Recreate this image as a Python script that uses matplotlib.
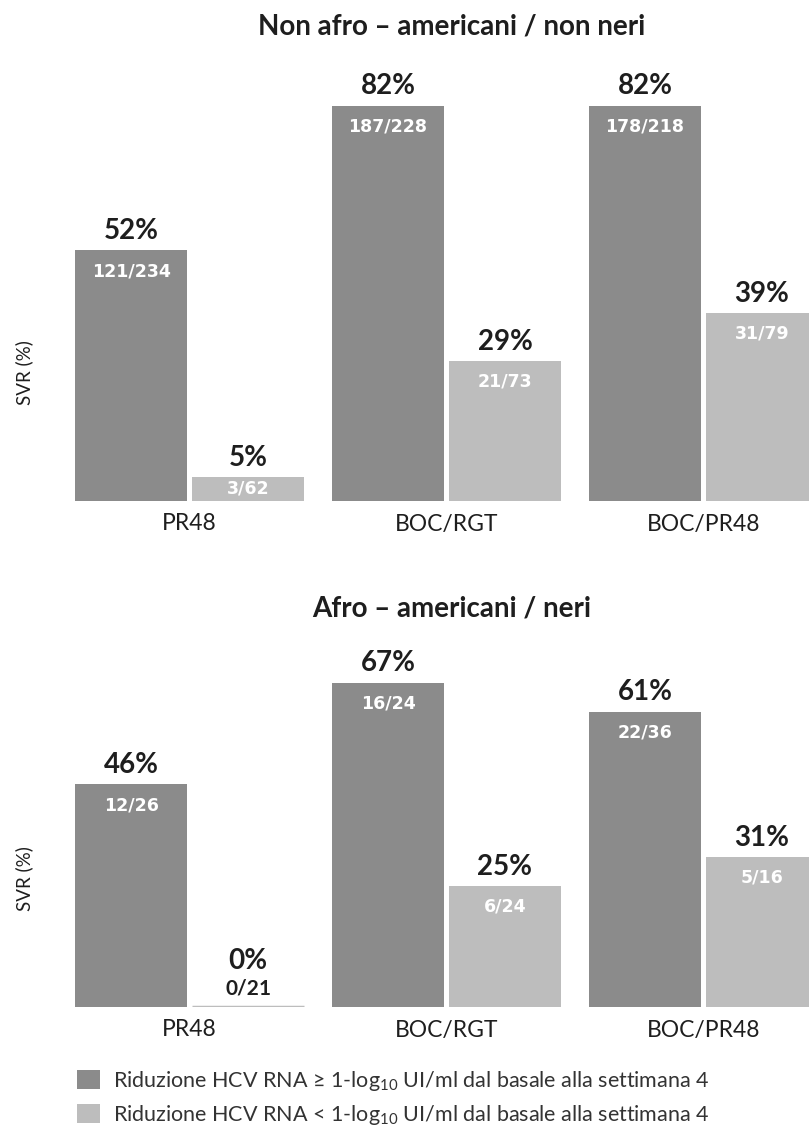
import matplotlib
matplotlib.use("Agg")
import matplotlib.pyplot as plt
import numpy as np

plt.rcParams['font.family'] = ['Lato', 'DejaVu Sans']
plt.rcParams['mathtext.default'] = 'regular'

# Data
categories = ["PR48", "BOC/RGT", "BOC/PR48"]

top_title = "Non afro \u2013 americani / non neri"
top_high = [52, 82, 82]
top_low = [5, 29, 39]
top_high_n = ["121/234", "187/228", "178/218"]
top_low_n = ["3/62", "21/73", "31/79"]

bottom_title = "Afro \u2013 americani / neri"
bottom_high = [46, 67, 61]
bottom_low = [0, 25, 31]
bottom_high_n = ["12/26", "16/24", "22/36"]
bottom_low_n = ["0/21", "6/24", "5/16"]

legend_labels = [
    "Riduzione HCV RNA \u2265 1-log$_{10}$ UI/ml dal basale alla settimana 4",
    "Riduzione HCV RNA < 1-log$_{10}$ UI/ml dal basale alla settimana 4",
]

DARK = "#8b8b8b"
LIGHT = "#bdbdbd"
TXT = "#1e1e1e"

W, H = 809, 1131
fig = plt.figure(figsize=(W / 100, H / 100), dpi=100)

x = np.arange(len(categories))
bw = 0.436
off = 0.2276
xlim = (-0.7374, 2.4105)

PCT_FS = 20
FRAC_FS = 12.5


def panel(bottom_px, top_px, ylim_top, high, low, high_n, low_n, title, title_y):
    ax = fig.add_axes([0, 1 - bottom_px / H, 1, (bottom_px - top_px) / H])
    ax.set_xlim(*xlim)
    ax.set_ylim(0, ylim_top)
    b1 = ax.bar(x - off, high, bw, color=DARK, linewidth=0)
    b2 = ax.bar(x + off, low, bw, color=LIGHT, edgecolor=LIGHT,
                linewidth=[2.5 if v == 0 else 0 for v in low])
    for xi, v, n in zip(x - off, high, high_n):
        ax.text(xi, v + 4.0, f"{v}%", ha="center", va="center",
                fontsize=PCT_FS, fontweight="bold", color=TXT)
        ax.text(xi, v - 4.3, n, ha="center", va="center", fontsize=FRAC_FS,
                fontweight="bold", color="white", family="DejaVu Sans")
    for xi, v, n in zip(x + off, low, low_n):
        if v == 0:
            ax.text(xi, v + 9.5, f"{v}%", ha="center", va="center",
                    fontsize=PCT_FS, fontweight="bold", color=TXT)
            ax.text(xi, v + 3.9, n, ha="center", va="center", fontsize=15,
                    fontweight="bold", color=TXT)
            continue
        ax.text(xi, v + 4.0, f"{v}%", ha="center", va="center",
                fontsize=PCT_FS, fontweight="bold", color=TXT)
        yl = v / 2 if v < 8 else v - 4.3
        ax.text(xi, yl, n, ha="center", va="center", fontsize=FRAC_FS,
                fontweight="bold", color="white", family="DejaVu Sans")
    ax.set_xticks(x)
    ax.set_xticklabels(categories, fontsize=16.5, color=TXT)
    ax.tick_params(axis="x", length=0, pad=9)
    ax.set_yticks([])
    for s in ax.spines.values():
        s.set_visible(False)
    fig.text(452 / W, 1 - title_y / H, title, ha="center", va="center",
             fontsize=20, fontweight="bold", color=TXT)
    fig.text(24 / W, 1 - (bottom_px - 128) / H, "SVR (%)", rotation=90,
             ha="center", va="center", fontsize=13.5, color=TXT)
    return b1, b2


h1, h2 = panel(501, 60, 441 / 4.82, top_high, top_low, top_high_n, top_low_n,
               top_title, 27)
panel(1007, 640, 367 / 4.84, bottom_high, bottom_low, bottom_high_n,
      bottom_low_n, bottom_title, 608)

fig.legend([h1, h2], legend_labels, loc="upper left",
           bbox_to_anchor=(77 / W, 1 - 1069 / H), frameon=False,
           borderpad=0, borderaxespad=0,
           fontsize=15.5, handlelength=1.05, handleheight=0.95,
           handletextpad=0.6, labelspacing=0.45, labelcolor="#333333")

fig.savefig("out.png", dpi=100)
